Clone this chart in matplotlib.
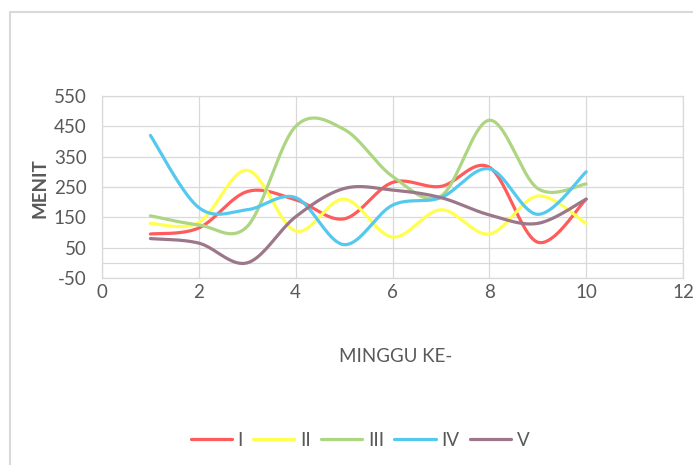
import numpy as np
import matplotlib
matplotlib.use("Agg")
import matplotlib.pyplot as plt
from matplotlib.patches import Rectangle

weeks = [1, 2, 3, 4, 5, 6, 7, 8, 9, 10]
series_names = ["I", "II", "III", "IV", "V"]
s_I = [95, 115, 235, 208, 145, 265, 252, 315, 68, 210]
s_II = [130, 133, 305, 105, 210, 85, 175, 95, 220, 130]
s_III = [155, 125, 120, 450, 440, 285, 220, 470, 245, 260]
s_IV = [420, 182, 175, 215, 60, 190, 215, 310, 160, 300]
s_V = [80, 65, 0, 152, 245, 240, 215, 158, 130, 210]
colors = ["#ff5b5b", "#ffff4f", "#aed581", "#55c8f0", "#9b7789"]

y_ticks = [-50, 50, 150, 250, 350, 450, 550]
x_ticks = [0, 2, 4, 6, 8, 10, 12]


def smooth(x, y, n=40):
    # cubic Bezier through each point, tangent from neighbouring points
    x = np.asarray(x, float); y = np.asarray(y, float)
    px = np.concatenate([[x[0]], x, [x[-1]]]); py = np.concatenate([[y[0]], y, [y[-1]]])
    t = np.linspace(0, 1, n)[:, None]
    xs, ys = [], []
    for i in range(1, len(x)):
        p0 = np.array([px[i], py[i]]); p3 = np.array([px[i + 1], py[i + 1]])
        p1 = p0 + (np.array([px[i + 1], py[i + 1]]) - np.array([px[i - 1], py[i - 1]])) / 6
        p2 = p3 - (np.array([px[i + 2], py[i + 2]]) - np.array([px[i], py[i]])) / 6
        b = (1 - t) ** 3 * p0 + 3 * (1 - t) ** 2 * t * p1 + 3 * (1 - t) * t ** 2 * p2 + t ** 3 * p3
        xs.append(b[:, 0]); ys.append(b[:, 1])
    return np.concatenate(xs), np.concatenate(ys)


plt.rcParams["font.family"] = ["Lato", "DejaVu Sans"]
plt.rcParams["axes.unicode_minus"] = False
fig = plt.figure(figsize=(6.93, 4.65), dpi=100)
fig.patches.append(Rectangle((10 / 693, -0.2), 1.5, 1.2 - 12 / 465, transform=fig.transFigure,
                             fill=False, edgecolor="#d9d9d9", lw=1.5))

ax = fig.add_axes([102 / 693, 1 - 278 / 465, 581 / 693, 182 / 465])
ax.set_xlim(0, 12); ax.set_ylim(-50, 550)
ax.set_xticks(x_ticks); ax.set_yticks(y_ticks)
ax.grid(True, color="#d9d9d9", lw=0.9)
ax.axhline(0, color="#d9d9d9", lw=0.9)
ax.set_axisbelow(True)
for sp in ax.spines.values():
    sp.set_color("#d9d9d9"); sp.set_linewidth(0.9)
ax.tick_params(length=0, labelsize=13.5, colors="#595959")
ax.tick_params(axis="y", pad=11)
ax.tick_params(axis="x", pad=4)

for name, vals, c in zip(series_names, [s_I, s_II, s_III, s_IV, s_V], colors):
    xs, ys = smooth(weeks, vals)
    ax.plot(xs, ys, color=c, lw=2.3, label=name, solid_capstyle="round")

fig.text(40 / 693, 1 - 188 / 465, "MENIT", rotation=90, ha="center", va="center",
         fontsize=13.5, fontweight="bold", color="#595959")
fig.text(396 / 693, 1 - 356 / 465, "MINGGU KE-", ha="center", va="center",
         fontsize=13.5, color="#595959")
fig.legend(loc="center", bbox_to_anchor=(360 / 693, 1 - 440 / 465), ncol=5, frameon=False,
           fontsize=13.5, labelcolor="#595959", handlelength=2.2, columnspacing=0.55,
           handletextpad=0.3)

fig.savefig("out.png", dpi=100)
